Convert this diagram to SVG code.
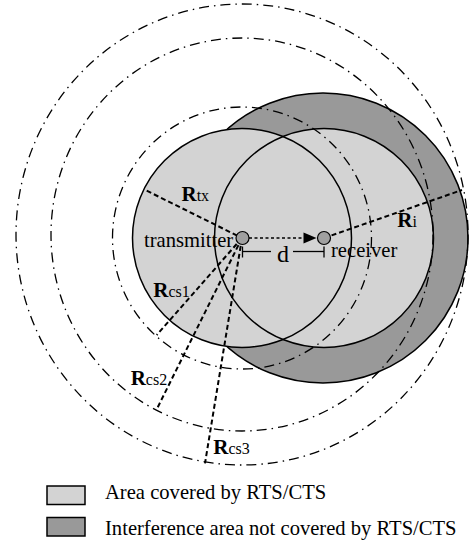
<svg xmlns="http://www.w3.org/2000/svg" width="470" height="547" viewBox="0 0 470 547" font-family="'Liberation Serif', 'Times New Roman', serif">
<style>
.bg{fill:#ffffff}
.light{fill:#d3d3d3;stroke:none}
.dark{fill:#999999;stroke:#000;stroke-width:1.5}
.outline{fill:none;stroke:#000;stroke-width:1.5}
.dd{fill:none;stroke:#000;stroke-width:1.3;stroke-dasharray:10 5 1.5 5}
.rad{fill:none;stroke:#000;stroke-width:2;stroke-dasharray:5 3}
.dot{fill:none;stroke:#000;stroke-width:1.3;stroke-dasharray:3 2.5}
.thin{fill:none;stroke:#000;stroke-width:1.3}
.node{fill:#a0a0a0;stroke:#000;stroke-width:1.2}
text{font-family:"Liberation Serif","Times New Roman",serif;fill:#000}
.lbl{font-size:20.6px}
.R{font-size:21px;font-weight:bold}
.sub{font-size:16px}
.legbox{stroke:#000;stroke-width:1.5}
</style>
<rect class="bg" x="0" y="0" width="470" height="547"/>

<g id="interference-area">
<circle class="dark" cx="323" cy="238" r="145"/>
</g>
<g id="coverage-areas">
<circle class="light" cx="242" cy="238" r="109.5"/>
<circle class="light" cx="324" cy="238" r="109.5"/>
<circle class="outline" cx="242" cy="238" r="109.5"/>
<circle class="outline" cx="324" cy="238" r="109.5"/>
</g>
<g id="carrier-sense-ranges">
<ellipse class="dd" cx="242" cy="238" rx="129.5" ry="131"/>
<ellipse class="dd" cx="242" cy="234.5" rx="191" ry="196.5"/>
<ellipse class="dd" cx="242" cy="234.5" rx="226" ry="230.5"/>
</g>

<g id="connectors">
<line class="rad" x1="146.7" y1="190.7" x2="242" y2="238"/>
<line class="rad" x1="324" y1="238" x2="462" y2="190"/>
<line class="rad" x1="242" y1="238" x2="156.7" y2="335"/>
<line class="rad" x1="242" y1="238" x2="156.7" y2="409.3"/>
<line class="rad" x1="242" y1="238" x2="205" y2="463.3"/>
<line class="dot" x1="249" y1="238" x2="304" y2="238"/>
<polygon points="303.5,232.5 316.5,238 303.5,243.5" fill="#000"/>
<g id="distance-d">
<line class="thin" x1="242.5" y1="251.5" x2="271" y2="251.5"/>
<line class="thin" x1="293" y1="251.5" x2="324" y2="251.5"/>
<line class="thin" x1="242.5" y1="246.5" x2="242.5" y2="257.5"/>
<line class="thin" x1="324" y1="246.5" x2="324" y2="257.5"/>
<text x="283" y="261.5" font-size="24" text-anchor="middle">d</text>
</g>
</g>

<g id="transmitter">
<circle class="node" cx="242.5" cy="238" r="6.5"/>
<text class="lbl" x="144" y="246.5">transmitter</text>
</g>
<g id="receiver">
<circle class="node" cx="324" cy="238" r="6.5"/>
<text class="lbl" x="331" y="257">receiver</text>
</g>

<g id="labels">
<text x="181.5" y="200.7"><tspan class="R">R</tspan><tspan class="sub">tx</tspan></text>
<text x="397.3" y="226.7"><tspan class="R">R</tspan><tspan class="sub">i</tspan></text>
<text x="153.3" y="296.7"><tspan class="R">R</tspan><tspan class="sub">cs1</tspan></text>
<text x="130.7" y="385"><tspan class="R">R</tspan><tspan class="sub">cs2</tspan></text>
<text x="213.3" y="454.3"><tspan class="R">R</tspan><tspan class="sub">cs3</tspan></text>
</g>

<g id="legend">
<g id="legend-covered">
<rect class="legbox" x="47" y="486" width="38" height="18.5" fill="#d3d3d3"/>
<text class="lbl" x="105" y="499.3">Area covered by RTS/CTS</text>
</g>
<g id="legend-interference">
<rect class="legbox" x="47" y="517.5" width="38" height="18.5" fill="#999999"/>
<text class="lbl" x="105" y="535">Interference area not covered by RTS/CTS</text>
</g>
</g>
</svg>
